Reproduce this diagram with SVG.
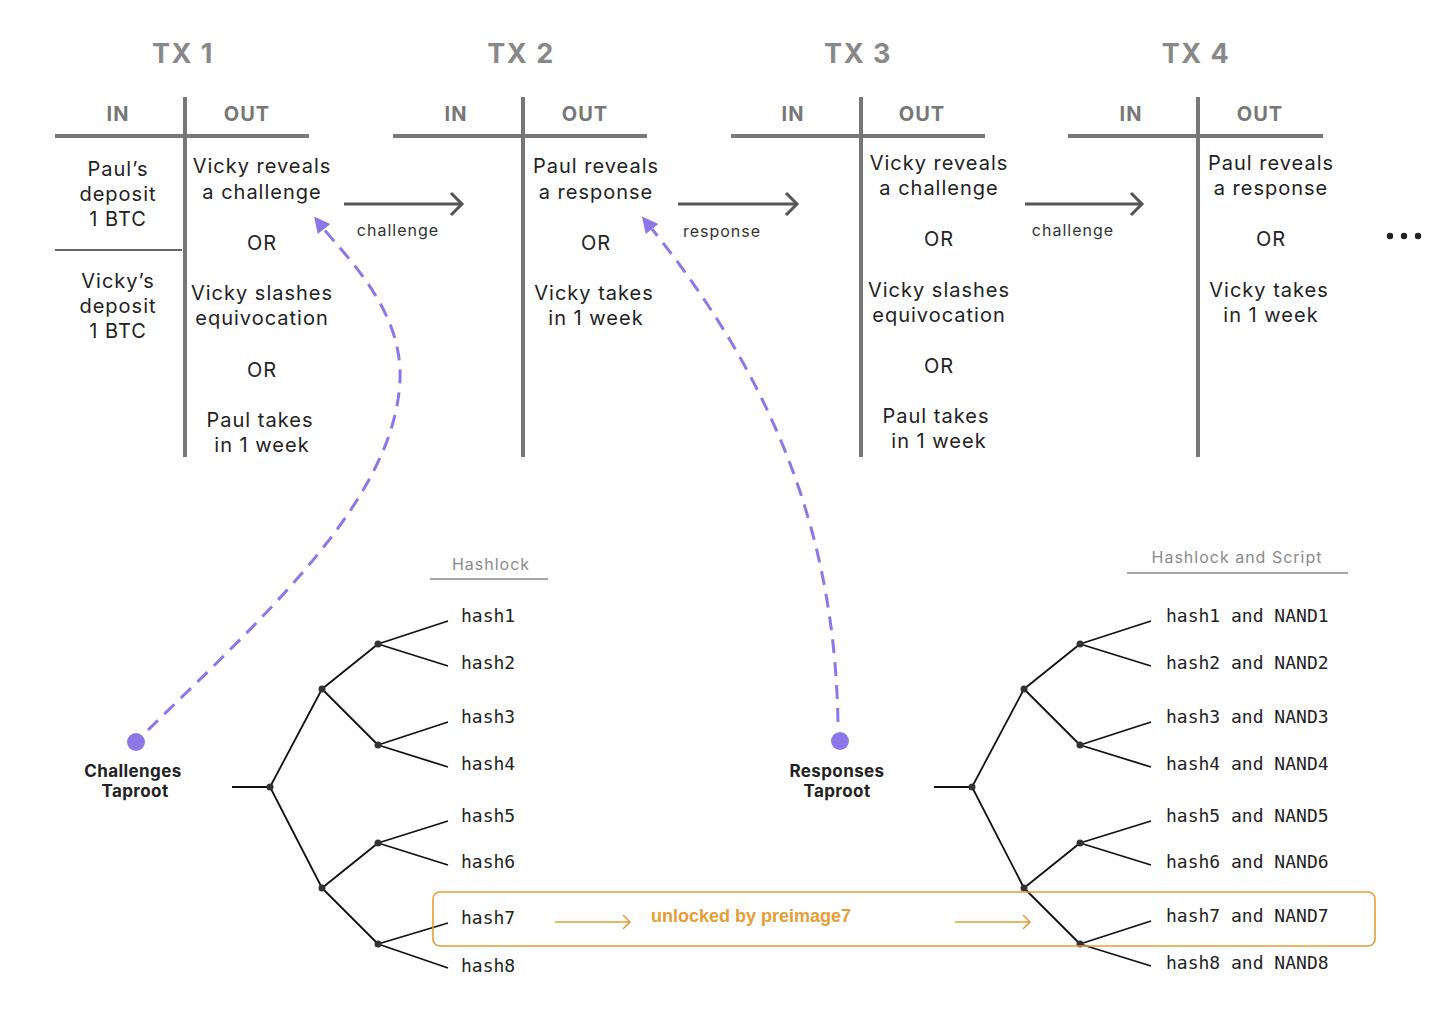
<svg xmlns="http://www.w3.org/2000/svg" width="1456" height="1015" viewBox="0 0 1456 1015">
<style>
.title{font-family:Inter,"Liberation Sans",sans-serif;font-weight:700;font-size:27px;fill:#888;letter-spacing:1.5px;text-anchor:middle}
.hdr{font-family:Inter,"Liberation Sans",sans-serif;font-weight:700;font-size:20px;fill:#777;letter-spacing:1px;text-anchor:middle}
.body{font-family:Inter,"Liberation Sans",sans-serif;font-size:20px;fill:#222;letter-spacing:1px;text-anchor:middle}
.lbl{font-family:Inter,"Liberation Sans",sans-serif;font-size:16px;fill:#333;letter-spacing:1px;text-anchor:middle}
.sub{font-family:Inter,"Liberation Sans",sans-serif;font-size:16px;fill:#8a8a8a;letter-spacing:1px;text-anchor:middle}
.root{font-family:Inter,"Liberation Sans",sans-serif;font-weight:700;font-size:17px;fill:#222;letter-spacing:0.4px;text-anchor:middle}
.mono{font-family:"DejaVu Sans Mono","Liberation Mono",monospace;font-size:18px;fill:#222}
.orange{font-family:"Liberation Sans",Arial,sans-serif;font-weight:700;font-size:18px;fill:#E59E35;text-anchor:middle}
.tline{stroke:#777;stroke-width:4;fill:none}
.arrow{stroke:#555;stroke-width:3;fill:none}
.tree{stroke:#111;stroke-width:1.8;fill:none}
.dash{stroke:#8B78E6;stroke-width:3;fill:none;stroke-dasharray:14 9}
.oline{stroke:#E59E35;stroke-width:1.6;fill:none}
</style>
<defs>
<marker id="ph" viewBox="0 0 10 10" refX="0" refY="5" markerUnits="userSpaceOnUse" markerWidth="17" markerHeight="16" orient="auto">
<path d="M0,0 L10,5 L0,10 z" fill="#8B78E6"/>
</marker>
</defs>
<rect width="1456" height="1015" fill="#fff"/>

<g id="tx1">
<text class="title" x="183" y="63">TX 1</text>
<text class="hdr" x="118" y="121">IN</text>
<text class="hdr" x="247" y="121">OUT</text>
<line class="tline" x1="55" y1="136" x2="309" y2="136"/>
<line class="tline" x1="185" y1="97" x2="185" y2="457"/>
<line x1="55" y1="250" x2="182" y2="250" stroke="#333" stroke-width="1.5"/>
<text class="body" x="118" y="176">Paul’s</text>
<text class="body" x="118" y="201">deposit</text>
<text class="body" x="118" y="226">1 BTC</text>
<text class="body" x="118" y="288">Vicky’s</text>
<text class="body" x="118" y="313">deposit</text>
<text class="body" x="118" y="338">1 BTC</text>
<text class="body" x="262" y="173">Vicky reveals</text>
<text class="body" x="262" y="199">a challenge</text>
<text class="body" x="262" y="250">OR</text>
<text class="body" x="262" y="300">Vicky slashes</text>
<text class="body" x="262" y="325">equivocation</text>
<text class="body" x="262" y="377">OR</text>
<text class="body" x="260" y="427">Paul takes</text>
<text class="body" x="262" y="452">in 1 week</text>
</g>

<g id="tx2">
<text class="title" x="521" y="63">TX 2</text>
<text class="hdr" x="456" y="121">IN</text>
<text class="hdr" x="585" y="121">OUT</text>
<line class="tline" x1="393" y1="136" x2="647" y2="136"/>
<line class="tline" x1="523" y1="97" x2="523" y2="457"/>
<text class="body" x="596" y="173">Paul reveals</text>
<text class="body" x="596" y="199">a response</text>
<text class="body" x="596" y="250">OR</text>
<text class="body" x="594" y="300">Vicky takes</text>
<text class="body" x="596" y="325">in 1 week</text>
</g>

<g id="tx3">
<text class="title" x="858" y="63">TX 3</text>
<text class="hdr" x="793" y="121">IN</text>
<text class="hdr" x="922" y="121">OUT</text>
<line class="tline" x1="731" y1="136" x2="985" y2="136"/>
<line class="tline" x1="861" y1="97" x2="861" y2="457"/>
<text class="body" x="939" y="170">Vicky reveals</text>
<text class="body" x="939" y="195">a challenge</text>
<text class="body" x="939" y="246">OR</text>
<text class="body" x="939" y="297">Vicky slashes</text>
<text class="body" x="939" y="322">equivocation</text>
<text class="body" x="939" y="373">OR</text>
<text class="body" x="936" y="423">Paul takes</text>
<text class="body" x="939" y="448">in 1 week</text>
</g>

<g id="tx4">
<text class="title" x="1196" y="63">TX 4</text>
<text class="hdr" x="1131" y="121">IN</text>
<text class="hdr" x="1260" y="121">OUT</text>
<line class="tline" x1="1068" y1="136" x2="1323" y2="136"/>
<line class="tline" x1="1198" y1="97" x2="1198" y2="457"/>
<text class="body" x="1271" y="170">Paul reveals</text>
<text class="body" x="1271" y="195">a response</text>
<text class="body" x="1271" y="246">OR</text>
<text class="body" x="1269" y="297">Vicky takes</text>
<text class="body" x="1271" y="322">in 1 week</text>
<circle cx="1390" cy="236" r="3.2" fill="#222"/>
<circle cx="1404" cy="236" r="3.2" fill="#222"/>
<circle cx="1418" cy="236" r="3.2" fill="#222"/>
</g>

<g id="connectors">
<line class="arrow" x1="344" y1="204" x2="462" y2="204"/>
<path class="arrow" d="M451,193 L462,204 L451,215"/>
<text class="lbl" x="398" y="236">challenge</text>
<line class="arrow" x1="678" y1="204" x2="797" y2="204"/>
<path class="arrow" d="M786,193 L797,204 L786,215"/>
<text class="lbl" x="722" y="237">response</text>
<line class="arrow" x1="1025" y1="204" x2="1142" y2="204"/>
<path class="arrow" d="M1131,193 L1142,204 L1131,215"/>
<text class="lbl" x="1073" y="236">challenge</text>
<path class="dash" d="M148,730 C260,620 395,500 400,380 C403,310 346,257 324,229" marker-end="url(#ph)"/>
<path class="dash" d="M838,722 C835,560 790,400 652,229" marker-end="url(#ph)"/>
</g>

<g id="challenges-taproot">
<circle cx="136" cy="742" r="9" fill="#8B78E6"/>
<text class="root" x="133" y="777">Challenges</text>
<text class="root" x="135" y="797">Taproot</text>
</g>

<g id="responses-taproot">
<circle cx="840" cy="741" r="9" fill="#8B78E6"/>
<text class="root" x="837" y="777">Responses</text>
<text class="root" x="837" y="797">Taproot</text>
</g>

<g id="hashlock-tree">
<text class="sub" x="491" y="570">Hashlock</text>
<line x1="430" y1="579" x2="548" y2="579" stroke="#888" stroke-width="1.5"/>
<path class="tree" d="M232,787 L270,787 M270,787 L322,689 M270,787 L322,888 M322,689 L378,644 M322,689 L378,745 M322,888 L378,843 M322,888 L378,944 M378,644 L448,621 M378,644 L448,666 M378,745 L448,722 M378,745 L448,767 M378,843 L448,821 M378,843 L448,865 M378,944 L448,923 M378,944 L448,968"/>
<g fill="#333">
<circle cx="270" cy="787" r="3.5"/><circle cx="322" cy="689" r="3.5"/><circle cx="322" cy="888" r="3.5"/>
<circle cx="378" cy="644" r="3.5"/><circle cx="378" cy="745" r="3.5"/><circle cx="378" cy="843" r="3.5"/><circle cx="378" cy="944" r="3.5"/>
</g>
<text class="mono" x="461" y="622">hash1</text>
<text class="mono" x="461" y="669">hash2</text>
<text class="mono" x="461" y="723">hash3</text>
<text class="mono" x="461" y="770">hash4</text>
<text class="mono" x="461" y="822">hash5</text>
<text class="mono" x="461" y="868">hash6</text>
<text class="mono" x="461" y="924">hash7</text>
<text class="mono" x="461" y="972">hash8</text>
</g>

<g id="script-tree">
<text class="sub" x="1237" y="563">Hashlock and Script</text>
<line x1="1127" y1="573" x2="1348" y2="573" stroke="#888" stroke-width="1.5"/>
<path class="tree" d="M934,787 L972,787 M972,787 L1024,689 M972,787 L1024,888 M1024,689 L1080,644 M1024,689 L1080,745 M1024,888 L1080,843 M1024,888 L1080,944 M1080,644 L1151,621 M1080,644 L1151,666 M1080,745 L1151,722 M1080,745 L1151,767 M1080,843 L1151,821 M1080,843 L1151,865 M1080,944 L1151,921 M1080,944 L1151,966"/>
<g fill="#333">
<circle cx="972" cy="787" r="3.5"/><circle cx="1024" cy="689" r="3.5"/><circle cx="1024" cy="888" r="3.5"/>
<circle cx="1080" cy="644" r="3.5"/><circle cx="1080" cy="745" r="3.5"/><circle cx="1080" cy="843" r="3.5"/><circle cx="1080" cy="944" r="3.5"/>
</g>
<text class="mono" x="1166" y="622">hash1 and NAND1</text>
<text class="mono" x="1166" y="669">hash2 and NAND2</text>
<text class="mono" x="1166" y="723">hash3 and NAND3</text>
<text class="mono" x="1166" y="770">hash4 and NAND4</text>
<text class="mono" x="1166" y="822">hash5 and NAND5</text>
<text class="mono" x="1166" y="868">hash6 and NAND6</text>
<text class="mono" x="1166" y="922">hash7 and NAND7</text>
<text class="mono" x="1166" y="969">hash8 and NAND8</text>
</g>

<g id="preimage-highlight">
<rect class="oline" x="433" y="892" width="942" height="54" rx="7"/>
<line class="oline" x1="555" y1="922" x2="630" y2="922"/>
<path class="oline" d="M623,915 L630,922 L623,929"/>
<text class="orange" x="751" y="922">unlocked by preimage7</text>
<line class="oline" x1="955" y1="922" x2="1030" y2="922"/>
<path class="oline" d="M1023,915 L1030,922 L1023,929"/>
</g>
</svg>
